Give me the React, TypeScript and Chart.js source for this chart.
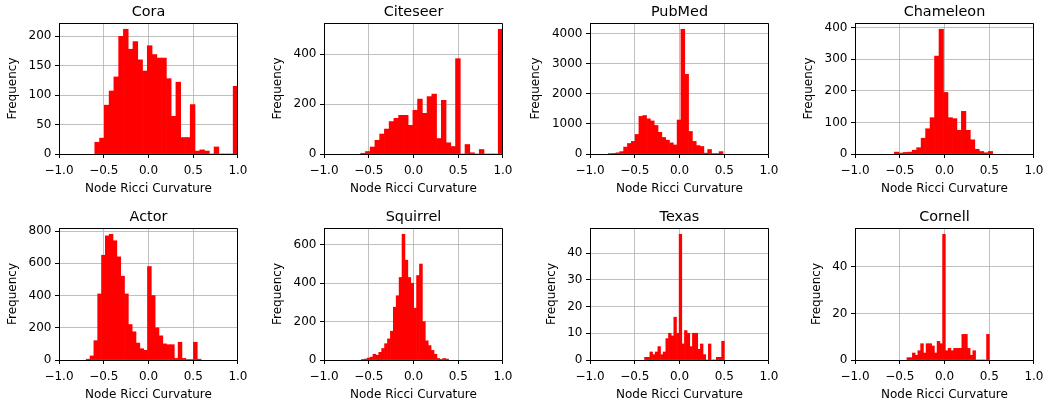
import React, { useEffect, useRef } from 'react';
import { Chart, registerables } from 'chart.js';

Chart.register(...registerables);

// ---------- data ----------
const titles = ['Cora', 'Citeseer', 'PubMed', 'Chameleon', 'Actor', 'Squirrel', 'Texas', 'Cornell'];
const xAxisLabel = 'Node Ricci Curvature';
const yAxisLabel = 'Frequency';
const xTickValues = [-1.0, -0.5, 0.0, 0.5, 1.0];

// histogram counts (per bin, left to right)
const coraCounts = [20, 27, 83, 107, 131, 200, 212, 178, 191, 160, 141, 184, 169, 163, 163, 128, 64, 122, 28, 28, 84, 5, 7, 5, 0, 12, 0, 0, 0, 115];
const citeseerCounts = [3, 10, 28, 55, 80, 100, 130, 143, 155, 155, 115, 175, 220, 163, 230, 240, 62, 215, 45, 30, 382, 0, 38, 5, 0, 18, 0, 0, 0, 500];
const pubmedCounts = [10, 20, 40, 80, 230, 350, 420, 650, 1250, 1280, 1170, 1100, 950, 720, 550, 460, 370, 300, 1130, 4150, 2650, 750, 420, 280, 250, 30, 150, 10, 10, 80];
const chameleonCounts = [6, 3, 5, 6, 12, 20, 50, 80, 115, 310, 395, 195, 115, 112, 75, 135, 75, 45, 15, 8, 4, 8];
const actorCounts = [5, 25, 120, 410, 650, 770, 780, 740, 640, 520, 410, 220, 175, 105, 70, 60, 580, 400, 200, 150, 100, 95, 95, 10, 110, 10, 3, 3, 110, 5];
const squirrelCounts = [3, 5, 10, 15, 30, 25, 40, 60, 85, 110, 150, 275, 335, 430, 655, 520, 430, 400, 270, 440, 500, 200, 100, 75, 50, 30, 8, 3, 8, 5];
const texasCounts = [1, 1, 3, 2, 3, 5, 2, 3, 8, 10, 9, 16, 10, 47, 6, 11, 10, 5, 10, 10, 4, 6, 2, 0, 6, 0, 0, 1, 1, 7];
const cornellCounts = [1, 1, 3, 2, 4, 7, 3, 7, 7, 6, 3, 8, 7, 54, 4, 5, 4, 5, 5, 5, 11, 11, 5, 2, 4, 0, 0, 0, 0, 11];

// first bin edge and bin width of each histogram
const binStarts = [-0.6, -0.59, -0.795, -0.561, -0.696, -0.583, -0.39, -0.42];
const binWidths = [0.05333, 0.053, 0.0427, 0.05, 0.0428, 0.0325, 0.0297, 0.0307];
const yTickSteps = [50, 200, 1000, 100, 200, 200, 10, 20];

const allCounts = [coraCounts, citeseerCounts, pubmedCounts, chameleonCounts, actorCounts, squirrelCounts, texasCounts, cornellCounts];

// ---------- layout ----------
const FONT = "'DejaVu Sans', sans-serif";
const PLOT_LEFTS = [59, 324, 590, 855];
const ROW_TOPS = [23, 228];
const ROW_HEIGHTS = [131, 132];
const PLOT_W = 182;
const Y_W = 62;
const X_H = 44;
const TITLE_H = 23;
const PAD_R = 12;

function alignPx(v: number, w: number) {
  const h = w / 2;
  return Math.round(v - h) + h;
}

const framePlugin = {
  id: 'frameSpines',
  afterDraw(chart: any) {
    const { ctx, chartArea } = chart;
    const { left, right, top, bottom } = chartArea;
    ctx.save();
    ctx.strokeStyle = '#000';
    ctx.lineWidth = 1;
    ctx.beginPath();
    const t = alignPx(top, 1);
    const r = alignPx(right, 1);
    ctx.moveTo(left, t);
    ctx.lineTo(r, t);
    ctx.lineTo(r, bottom);
    ctx.stroke();
    ctx.restore();
  },
};

const fmtX = (v: number) => (v < -1e-9 ? '\u2212' : '') + Math.abs(v).toFixed(1);
const fmtY = (v: number) => String(Math.round(v));

function Hist({ idx }: { idx: number }) {
  const ref = useRef<HTMLCanvasElement>(null);
  const col = idx % 4;
  const row = Math.floor(idx / 4);
  const cw = Y_W + PLOT_W + PAD_R;
  const ch = TITLE_H + ROW_HEIGHTS[row] + X_H;
  const left = PLOT_LEFTS[col] - Y_W;
  const top = ROW_TOPS[row] - TITLE_H;

  useEffect(() => {
    if (!ref.current) return;
    const counts = allCounts[idx];
    const start = binStarts[idx];
    const w = binWidths[idx];
    const points = counts.map((c, k) => ({ x: start + (k + 0.5) * w, y: c }));
    const yMax = Math.max(...counts) * 1.05;
    const step = yTickSteps[idx];
    const yTickValues: number[] = [];
    for (let v = 0; v <= yMax + 1e-9; v += step) yTickValues.push(v);

    // widest y tick label -> y-axis title position (matplotlib-like)
    const mctx = document.createElement('canvas').getContext('2d')!;
    mctx.font = `12px ${FONT}`;
    let widest = 0;
    for (const v of yTickValues) widest = Math.max(widest, mctx.measureText(fmtY(v)).width);
    const yTitlePadTop = Math.max(0, 31.7 - widest);

    const tickFont = { family: FONT, size: 12 };
    const gridOpts = {
      color: '#b0b0b0',
      lineWidth: 0.8,
      tickLength: 4,
      tickColor: '#000',
      tickWidth: 1,
      offset: false,
    };

    const chart = new Chart(ref.current, {
      type: 'bar',
      data: {
        datasets: [
          {
            data: points,
            backgroundColor: '#ff0000',
            borderWidth: 0,
            barPercentage: 1,
            categoryPercentage: 1,
          } as any,
        ],
      },
      options: {
        responsive: false,
        animation: false,
        events: [],
        layout: { padding: { left: 0, right: PAD_R, top: 0, bottom: 0 } },
        plugins: {
          legend: { display: false },
          tooltip: { enabled: false },
          title: {
            display: true,
            fullSize: false,
            text: titles[idx],
            color: '#000',
            font: { family: FONT, size: 14.4, weight: 'normal', lineHeight: '18px' } as any,
            padding: { top: 3.5, bottom: 1.5 },
          },
        },
        scales: {
          x: {
            type: 'linear',
            min: -1,
            max: 1,
            offset: false,
            z: 1,
            afterFit: (s: any) => {
              s.height = X_H;
            },
            afterBuildTicks: (s: any) => {
              s.ticks = xTickValues.map((v) => ({ value: v }));
            },
            ticks: {
              stepSize: 0.5,
              padding: 5.5,
              color: '#000',
              font: tickFont,
              autoSkip: false,
              maxRotation: 0,
              callback: (v: any) => fmtX(Number(v)),
            },
            grid: gridOpts as any,
            border: { display: true, color: '#000', width: 1 },
            title: {
              display: true,
              text: xAxisLabel,
              color: '#000',
              font: { family: FONT, size: 12, lineHeight: '14px' } as any,
              padding: { top: 0, bottom: 2.5 },
            },
          },
          y: {
            type: 'linear',
            min: 0,
            max: yMax,
            z: 1,
            afterFit: (s: any) => {
              s.width = Y_W;
            },
            afterBuildTicks: (s: any) => {
              s.ticks = yTickValues.map((v) => ({ value: v }));
            },
            ticks: {
              stepSize: step,
              includeBounds: false,
              padding: 3.5,
              color: '#000',
              font: tickFont,
              callback: (v: any) => fmtY(Number(v)),
            },
            grid: gridOpts as any,
            border: { display: true, color: '#000', width: 1 },
            title: {
              display: true,
              text: yAxisLabel,
              color: '#000',
              font: { family: FONT, size: 12, lineHeight: '14px' } as any,
              padding: { top: yTitlePadTop, bottom: 0 },
            },
          },
        },
      } as any,
      plugins: [framePlugin],
    });
    return () => chart.destroy();
  }, [idx]);

  return (
    <canvas
      ref={ref}
      width={cw}
      height={ch}
      style={{ position: 'absolute', left, top, width: cw, height: ch }}
    />
  );
}

export default function App() {
  return (
    <div
      style={{
        position: 'absolute',
        left: 0,
        top: 0,
        width: 1047,
        height: 402,
        overflow: 'hidden',
        background: '#fff',
      }}
    >
      {titles.map((_, i) => (
        <Hist key={i} idx={i} />
      ))}
    </div>
  );
}
